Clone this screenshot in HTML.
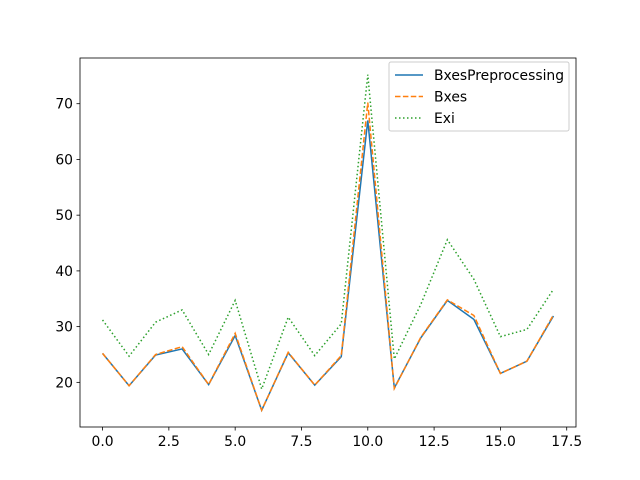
<!DOCTYPE html>
<html><head><meta charset="utf-8"><style>body{margin:0;background:#fff}svg{display:block;font-family:"DejaVu Sans","Liberation Sans",sans-serif}</style></head>
<body>
<svg id="chart" width="640" height="480" xmlns="http://www.w3.org/2000/svg"></svg>
<script>
const xValues=[0,1,2,3,4,5,6,7,8,9,10,11,12,13,14,15,16,17];
const seriesBxesPre=[25.2,19.4,24.9,26.0,19.6,28.4,15.0,25.3,19.5,24.6,67.0,19.0,28.0,34.7,31.3,21.6,23.8,31.9];
const seriesBxes=[25.2,19.4,25.0,26.4,19.6,28.8,15.0,25.4,19.5,24.8,70.2,18.9,28.1,34.8,32.0,21.6,23.8,32.1];
const seriesExi=[31.2,24.7,30.8,33.0,25.0,34.7,18.8,31.7,24.8,30.5,75.2,24.2,34.0,45.6,38.5,28.2,29.5,36.7];
const xTicks=[0,2.5,5,7.5,10,12.5,15,17.5];
const xTickLabels=["0.0","2.5","5.0","7.5","10.0","12.5","15.0","17.5"];
const yTicks=[20,30,40,50,60,70];
const yTickLabels=["20","30","40","50","60","70"];
const names=["BxesPreprocessing","Bxes","Exi"];
const L=80,R=576,T=58,B=427,xmin=-0.85,xmax=17.85,ymin=11.99,ymax=78.2;
const sx=v=>L+(v-xmin)/(xmax-xmin)*(R-L), sy=v=>B-(v-ymin)/(ymax-ymin)*(B-T);
const svg=document.getElementById('chart'),NS="http://www.w3.org/2000/svg";
function mk(t,a,p){const e=document.createElementNS(NS,t);for(const k in a)e.setAttribute(k,a[k]);(p||svg).appendChild(e);return e;}
const styles=[{c:"#1f77b4",d:""},{c:"#ff7f0e",d:"5.5,2.4"},{c:"#2ca02c",d:"1.5,2.5"}];
[seriesBxesPre,seriesBxes,seriesExi].forEach((s,i)=>{
 const p=mk('polyline',{points:s.map((v,j)=>sx(xValues[j])+','+sy(v)).join(' '),fill:'none',stroke:styles[i].c,'stroke-width':1.5,'stroke-dasharray':styles[i].d});
 
 
});
const ax=mk('rect',{x:L,y:T,width:R-L,height:B-T,fill:'none',stroke:'#000','stroke-width':0.8});

xTicks.forEach((v,i)=>{const x=sx(v);mk('line',{x1:x,x2:x,y1:B,y2:B+3.5,stroke:'#000','stroke-width':0.8});
 const t=mk('text',{x:x,y:B+19,'text-anchor':'middle','font-size':13.9});t.textContent=xTickLabels[i];
 });
yTicks.forEach((v,i)=>{const y=sy(v);mk('line',{x1:L-3.5,x2:L,y1:y,y2:y,stroke:'#000','stroke-width':0.8});
 const t=mk('text',{x:L-7,y:y+5,'text-anchor':'end','font-size':13.9});t.textContent=yTickLabels[i];
 });
const lg=mk('g',{});
mk('rect',{x:389,y:62,width:180,height:69,rx:2,fill:'#fff','fill-opacity':0.8,stroke:'#ccc'},lg);
names.forEach((n,i)=>{const y=75+i*21.5;
 mk('line',{x1:395,x2:423,y1:y,y2:y,stroke:styles[i].c,'stroke-width':1.5,'stroke-dasharray':styles[i].d},lg);
 const t=mk('text',{x:434,y:y+5,'font-size':13.9},lg);t.textContent=n;
 });
</script>
</body></html>
